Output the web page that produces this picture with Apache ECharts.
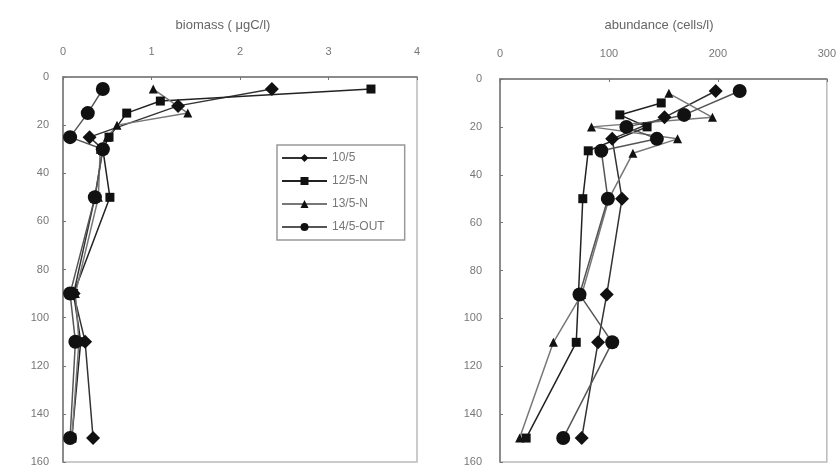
<!DOCTYPE html>
<html>
<head>
<meta charset="utf-8">
<script src="https://cdn.jsdelivr.net/npm/echarts@6/dist/echarts.min.js"></script>
<style>html,body{margin:0;padding:0;background:#fff}#c{width:839px;height:470px}</style>
</head>
<body>
<div id="c"></div>
<script>
// ---- data ----
const seriesNames = ['10/5', '12/5-N', '13/5-N', '14/5-OUT'];
const yTicks = [0, 20, 40, 60, 80, 100, 120, 140, 160];
const biomassTicks = [0, 1, 2, 3, 4];
const abundanceTicks = [0, 100, 200, 300];

// biomass (µgC/l) : depth
const bio_10_depth = [5, 12, 25, 30, 50, 90, 110, 150];
const bio_10_val   = [2.36, 1.3, 0.3, 0.45, 0.36, 0.12, 0.25, 0.34];
const bio_12_depth = [5, 10, 15, 25, 30, 50, 90, 110, 150];
const bio_12_val   = [3.48, 1.1, 0.72, 0.52, 0.45, 0.53, 0.12, 0.2, 0.1];
const bio_13_depth = [5, 15, 20, 25, 30, 50, 90, 110, 150];
const bio_13_val   = [1.02, 1.41, 0.61, 0.5, 0.42, 0.4, 0.14, 0.18, 0.1];
const bio_14_depth = [5, 15, 25, 30, 50, 90, 110, 150];
const bio_14_val   = [0.45, 0.28, 0.08, 0.45, 0.36, 0.08, 0.14, 0.08];

// abundance (cells/l) : depth
const ab_10_depth = [5, 16, 25, 50, 90, 110, 150];
const ab_10_val   = [198, 151, 103, 112, 98, 90, 75];
const ab_12_depth = [10, 15, 20, 30, 50, 90, 110, 150];
const ab_12_val   = [148, 110, 135, 81, 76, 72, 70, 24];
const ab_13_depth = [6, 16, 20, 25, 31, 50, 90, 110, 150];
const ab_13_val   = [155, 195, 84, 163, 122, 100, 75, 49, 18];
const ab_14_depth = [5, 15, 20, 25, 30, 50, 90, 110, 150];
const ab_14_val   = [220, 169, 116, 144, 93, 99, 73, 103, 58];

const symbols = ['diamond', 'rect', 'triangle', 'circle'];
const symSizes = [14, 9, 9, 14];
const lineColors = ['#333', '#222', '#777', '#555'];

function pairs(vals, depths) { return vals.map((v, i) => [v, depths[i]]); }
const bioData = [pairs(bio_10_val, bio_10_depth), pairs(bio_12_val, bio_12_depth), pairs(bio_13_val, bio_13_depth), pairs(bio_14_val, bio_14_depth)];
const abData = [pairs(ab_10_val, ab_10_depth), pairs(ab_12_val, ab_12_depth), pairs(ab_13_val, ab_13_depth), pairs(ab_14_val, ab_14_depth)];

const FONT = 'Liberation Sans, Arial, sans-serif';
const axisLabel = { color: '#777', fontSize: 11, fontFamily: FONT };

function xAx(idx, max, interval) {
  return {
    type: 'value', gridIndex: idx, position: 'top', min: 0, max: max, interval: interval,
    axisLine: { show: true, lineStyle: { color: '#777', width: 1.5 } },
    axisTick: { show: true, inside: true, length: 3, lineStyle: { color: '#777' } },
    axisLabel: Object.assign({ margin: 20 }, axisLabel),
    splitLine: { show: false }
  };
}
function yAx(idx, margin) {
  return {
    type: 'value', gridIndex: idx, inverse: true, min: 0, max: 160, interval: 20,
    axisLine: { show: true, onZero: false, lineStyle: { color: '#777', width: 1.5 } },
    axisTick: { show: true, inside: true, length: 3, lineStyle: { color: '#777' } },
    axisLabel: Object.assign({ margin: margin }, axisLabel),
    splitLine: { show: false }
  };
}

const series = [];
for (let g = 0; g < 2; g++) {
  const data = g === 0 ? bioData : abData;
  for (let s = 0; s < 4; s++) {
    series.push({
      name: seriesNames[s], type: 'line', xAxisIndex: g, yAxisIndex: g,
      data: data[s], symbol: symbols[s], symbolSize: symSizes[s],
      itemStyle: { color: '#111' },
      lineStyle: { color: lineColors[s], width: 1.5 },
      emphasis: { disabled: true }, animation: false
    });
  }
}

const chart = echarts.init(document.getElementById('c'));
chart.setOption({
  backgroundColor: '#fff',
  animation: false,
  title: [
    { text: 'biomass ( μgC/l)', left: 218, top: 14, textAlign: 'center', textStyle: { color: '#666', fontSize: 13, fontWeight: 'normal', fontFamily: FONT } },
    { text: 'abundance (cells/l)', left: 654, top: 14, textAlign: 'center', textStyle: { color: '#666', fontSize: 13, fontWeight: 'normal', fontFamily: FONT } }
  ],
  grid: [
    { left: 63, right: 422, top: 77, bottom: 8, show: true, borderColor: '#bbb', borderWidth: 1.5 },
    { left: 500, right: 11, top: 79, bottom: 8, show: true, borderColor: '#bbb', borderWidth: 1.5 }
  ],
  xAxis: [xAx(0, 4, 1), xAx(1, 300, 100)],
  yAxis: [yAx(0, 14), yAx(1, 18)],
  legend: {
    data: seriesNames, orient: 'vertical', left: 277, top: 145,
    itemWidth: 45, itemHeight: 10, itemGap: 11,
    padding: [7, 20, 7, 4],
    borderColor: '#999', borderWidth: 1.5, backgroundColor: '#fff',
    textStyle: { color: '#777', fontSize: 12, fontFamily: FONT }
  },
  series: series
});
</script>
</body>
</html>
